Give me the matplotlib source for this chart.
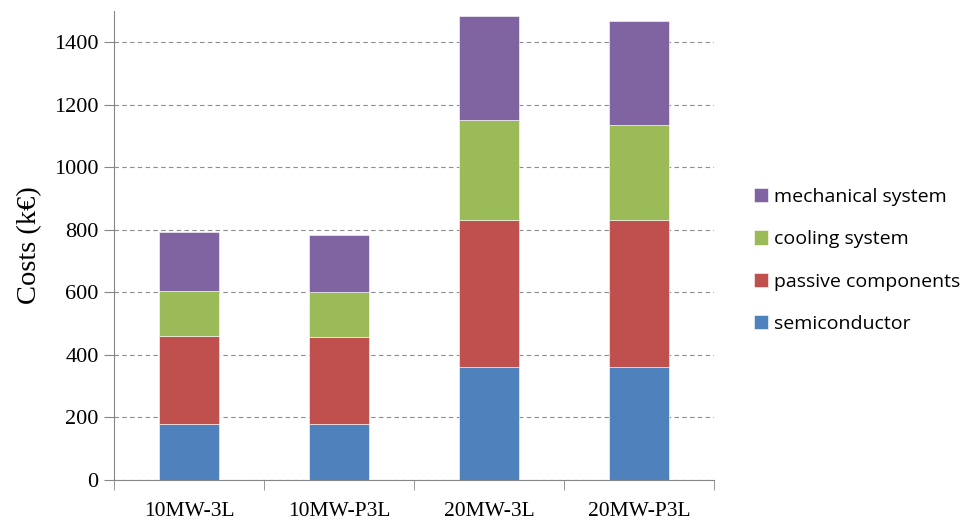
import matplotlib.pyplot as plt
import numpy as np

configs = ["10MW-3L", "10MW-P3L", "20MW-3L", "20MW-P3L"]
semiconductor = [180, 180, 362, 362]
passive = [281, 278, 468, 468]
cooling = [145, 144, 320, 305]
mechanical = [187, 183, 333, 333]

parts = ["semiconductor", "passive components", "cooling system", "mechanical system"]
colors = ["#4F81BD", "#C0504D", "#9BBB59", "#8064A2"]
serif = "Liberation Serif"


def cost_chart():
    fig = plt.figure(figsize=(9.71, 5.24), dpi=100)
    ax = fig.add_axes([0.1174, 0.084, 0.618, 0.895])
    x = np.arange(len(configs))
    bottom = np.zeros(len(configs))
    handles = []
    for vals, name, c in zip([semiconductor, passive, cooling, mechanical], parts, colors):
        b = ax.bar(x, vals, 0.4, bottom=bottom, color=c, label=name,
                   edgecolor="white", linewidth=0.4, zorder=3)
        handles.append(b)
        bottom += np.array(vals)

    ax.set_xlim(-0.5, 3.5)
    ax.set_ylim(0, 1500)
    ax.set_yticks(range(0, 1401, 200))
    ax.yaxis.grid(True, linestyle=(0, (4, 3)), color="#8C8C8C", linewidth=0.8, zorder=0)

    # category boundary ticks on the x axis
    ax.set_xticks(x)
    ax.set_xticklabels(configs, fontname=serif, fontsize=15.5)
    ax.set_xticks(np.arange(-0.5, 4, 1), minor=True)
    ax.tick_params(axis="x", which="major", length=0, pad=16)
    ax.tick_params(axis="x", which="minor", length=7, color="#868686")
    ax.tick_params(axis="y", length=7, color="#868686", labelsize=16, pad=4)
    for lab in ax.get_yticklabels():
        lab.set_fontname(serif)

    for s in ["top", "right"]:
        ax.spines[s].set_visible(False)
    for s in ["left", "bottom"]:
        ax.spines[s].set_color("#868686")

    ax.set_ylabel("Costs (k€)", fontname=serif, fontsize=20.5, labelpad=9)

    fig.legend(handles[::-1], parts[::-1], loc="center left",
               bbox_to_anchor=(0.758, 0.503), frameon=False,
               prop={"family": "Open Sans", "size": 14},
               handlelength=0.75, handleheight=0.75, handletextpad=0.3,
               labelspacing=1.25)

    fig.savefig("out.png", dpi=100)


if __name__ == "__main__":
    cost_chart()
